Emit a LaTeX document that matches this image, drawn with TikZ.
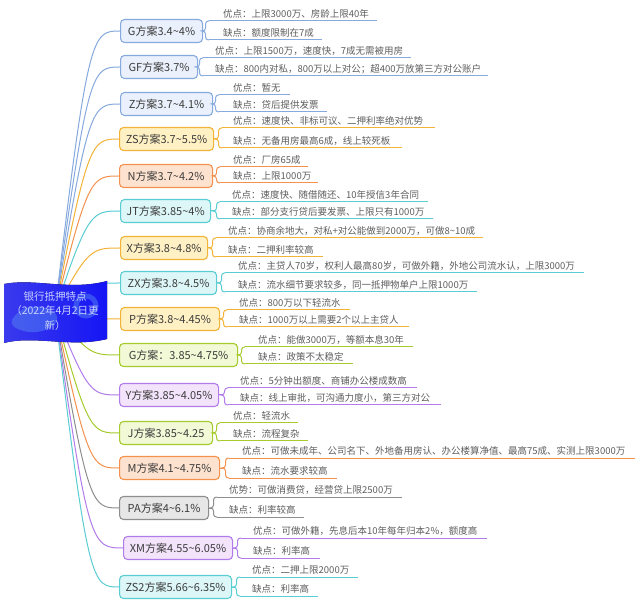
\documentclass[tikz,border=0pt]{standalone}
\usepackage{fontspec}
\setmainfont{Noto Sans CJK SC}
\definecolor{bluB}{HTML}{86A9DE}\definecolor{bluF}{HTML}{EAF1FC}
\definecolor{ylwB}{HTML}{F2B338}\definecolor{ylwF}{HTML}{FFF1C4}
\definecolor{orgB}{HTML}{F3914F}\definecolor{orgF}{HTML}{FDE3CF}
\definecolor{cynB}{HTML}{5ACDD3}\definecolor{cynF}{HTML}{DDF7F8}
\definecolor{grnB}{HTML}{A5CB2C}\definecolor{grnF}{HTML}{F1F9D6}
\definecolor{purB}{HTML}{B27BEA}\definecolor{purF}{HTML}{F3E4FC}
\definecolor{gryB}{HTML}{8E8E8E}\definecolor{gryF}{HTML}{E7E7E7}
\definecolor{boxtxt}{HTML}{3C3C3C}\definecolor{subtxt}{HTML}{5E5E5E}
\definecolor{rootL}{HTML}{3A3AEE}\definecolor{rootR}{HTML}{1515F5}
\definecolor{rootT}{HTML}{C9D2FF}\definecolor{blobC}{HTML}{5A8EF0}
\pgfdeclarelayer{bg}\pgfdeclarelayer{paper}\pgfsetlayers{paper,bg,main}
\tikzset{
 brbox/.style={draw=#1B, fill=#1F, rounded corners=4pt, line width=1.1pt, minimum height=23pt, inner sep=1pt, text=boxtxt, font=\fontsize{11}{13}\selectfont},
 brline/.style={draw=#1B, line width=1pt},
 subt/.style={text=subtxt, font=\fontsize{9.5}{11}\selectfont, inner sep=0pt, anchor=base west},
 blob/.style={fill=blobC, opacity=0.45},
}
\newcommand\tld{\textasciitilde}
% id col label left width cy bx t b
\newcommand\mybranch[9]{%
 \node[brbox=#2, minimum width=#5pt, anchor=west] (#1) at (#4,#6) {#3};
 \coordinate (#1k) at (#7-1,#6);
 \coordinate (#1kt) at (#7+5,#8);
 \coordinate (#1kb) at (#7+5,#9);
 \draw[brline=#2] (#1.east) -- (#1k);
 \draw[brline=#2, rounded corners=3pt] (#1kt) -- (#7+1.5,#8) -- (#7+1.5,#6) -- (#1k);
 \draw[brline=#2, rounded corners=3pt] (#1k) -- (#7+1.5,#6) -- (#7+1.5,#9) -- (#1kb);
 \begin{pgfonlayer}{bg}
 \draw[brline=#2] (root.center) .. controls (88,#6) and (92,#6) .. (#1.west);
 \end{pgfonlayer}
}
% id col tx t b tend bend text1 text2
\newcommand\mysubs[9]{%
 \coordinate (#1et) at (#6,#4);
 \coordinate (#1eb) at (#7,#5);
 \draw[brline=#2] (#1kt) -- (#1et);
 \draw[brline=#2] (#1kb) -- (#1eb);
 \node[subt] (#1p) at (#3,#4-3.5) {#8};
 \node[subt] (#1q) at (#3,#5-3.5) {#9};
}
\begin{document}
\begin{tikzpicture}[x=1pt,y=-1pt]
\useasboundingbox (0,0) rectangle (640,609);
\begin{pgfonlayer}{paper}
\fill[white] (0,0) rectangle (640,609);
\end{pgfonlayer}
% root
\fill[left color=rootL, right color=rootR] (4,284) .. controls (35,278) and (70,291) .. (107,281) -- (107,339) .. controls (70,348) and (35,335) .. (4,343) -- cycle;
\fill[blob] (12,320) .. controls (22,302) and (45,304) .. (56,314) .. controls (63,324) and (42,336) .. (24,331) .. controls (16,329) and (10,326) .. (12,320) -- cycle;
\draw[blob, fill=none, draw=blobC, line width=5pt] (86,306) circle (10pt);
\node[text=rootT, font=\fontsize{10.5}{14.5}\selectfont, align=center] (root) at (55,311) {银行抵押特点\\（2022年4月2日更\\新）};
% branches
\mybranch{a}{blu}{G方案3.4\tld4\%}{120}{82}{31}{204}{21}{40}
\mysubs{a}{blu}{223}{21}{40}{377}{322}{优点：上限3000万、房龄上限40年}{缺点：额度限制在7成}
\mybranch{b}{blu}{GF方案3.7\%}{120}{77}{67}{198}{58}{76}
\mysubs{b}{blu}{215}{58}{76}{411}{488}{优点：上限1500万，速度快，7成无需被用房}{缺点：800内对私，800万以上对公；超400万放第三方对公账户}
\mybranch{c}{blu}{Z方案3.7\tld4.1\%}{120}{92}{104}{214}{95}{112}
\mysubs{c}{blu}{233}{95}{112}{290}{327}{优点：暂无}{缺点：贷后提供发票}
\mybranch{d}{ylw}{ZS方案3.7\tld5.5\%}{119}{94}{139}{217}{128}{148}
\mysubs{d}{ylw}{233}{128}{148}{435}{402}{优点：速度快、非标可议、二押利率绝对优势}{缺点：无备用房最高6成，线上较死板}
\mybranch{e}{org}{N方案3.7\tld4.2\%}{119}{93}{176}{215}{167}{183}
\mysubs{e}{org}{233}{167}{183}{308}{318}{优点：厂房65成}{缺点：上限1000万}
\mybranch{f}{cyn}{JT方案3.85\tld4\%}{120}{90}{211}{215}{202}{219}
\mysubs{f}{cyn}{232}{202}{219}{428}{433}{优点：速度快、随借随还、10年授信3年合同}{缺点：部分支行贷后要发票、上限只有1000万}
\mybranch{g}{ylw}{X方案3.8\tld4.8\%}{120}{87}{248}{211}{238}{257}
\mysubs{g}{ylw}{228}{238}{257}{483}{323}{优点：协商余地大，对私+对公能做到2000万，可做8\tld10成}{缺点：二押利率较高}
\mybranch{h}{cyn}{ZX方案3.8\tld4.5\%}{120}{96}{283}{220}{273}{292}
\mysubs{h}{cyn}{238}{273}{292}{584}{477}{优点：主贷人70岁，权利人最高80岁，可做外籍，外地公司流水认，上限3000万}{缺点：流水细节要求较多，同一抵押物单户上限1000万}
\mybranch{i}{ylw}{P方案3.8\tld4.45\%}{120}{99}{319}{222}{310}{327}
\mysubs{i}{ylw}{239}{310}{327}{350}{409}{优点：800万以下轻流水}{缺点：1000万以上需要2个以上主贷人}
\mybranch{j}{grn}{G方案：3.85\tld4.75\%}{119}{118}{355}{240}{347}{364}
\mysubs{j}{grn}{258}{347}{364}{413}{353}{优点：能做3000万，等额本息30年}{缺点：政策不太稳定}
\mybranch{k}{pur}{Y方案3.85\tld4.05\%}{119}{99}{395}{223}{388}{405}
\mysubs{k}{pur}{240}{388}{405}{417}{441}{优点：5分钟出额度、商铺办公楼成数高}{缺点：线上审批，可沟通力度小，第三方对公}
\mybranch{l}{grn}{J方案3.85\tld4.25}{119}{93}{433}{215}{423}{441}
\mysubs{l}{grn}{233}{423}{441}{298}{308}{优点：轻流水}{缺点：流程复杂}
\mybranch{m}{org}{M方案4.1\tld4.75\%}{119}{100}{468}{224}{458}{478}
\mysubs{m}{org}{242}{458}{478}{635}{337}{优点：可做未成年、公司名下、外地备用房认、办公楼算净值、最高75成、实测上限3000万}{缺点：流水要求较高}
\mybranch{n}{gry}{PA方案4\tld6.1\%}{119}{89}{508}{212}{497}{517}
\mysubs{n}{gry}{229}{497}{517}{402}{304}{优势：可做消费贷，经营贷上限2500万}{缺点：利率较高}
\mybranch{o}{pur}{XM方案4.55\tld6.05\%}{123}{109}{548}{236}{538}{558}
\mysubs{o}{pur}{253}{538}{558}{487}{320}{优点：可做外籍，先息后本10年每年归本2\%，额度高}{缺点：利率高}
\mybranch{p}{cyn}{ZS2方案5.66\tld6.35\%}{119}{112}{587}{235}{577}{596}
\mysubs{p}{cyn}{252}{577}{596}{358}{318}{优点：二押上限2000万}{缺点：利率高}
\end{tikzpicture}
\end{document}
